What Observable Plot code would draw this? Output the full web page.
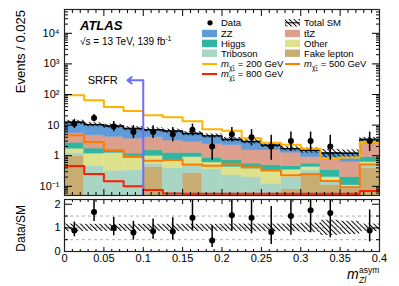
<!DOCTYPE html>
<html><head><meta charset="utf-8">
<script src="https://cdn.jsdelivr.net/npm/d3@7"></script>
<script src="https://cdn.jsdelivr.net/npm/@observablehq/plot@0.6"></script>
<style>
body{margin:0;background:#fff;}
#fig{position:relative;width:399px;height:286px;overflow:hidden;font-family:"Liberation Sans",Arial,Helvetica,sans-serif;}
#fig svg{display:block;}
</style></head><body><div id="fig"></div>
<script>
// ---------- data ----------
const binEdges = [0, 0.025, 0.05, 0.075, 0.1, 0.125, 0.15, 0.175, 0.2, 0.225, 0.25, 0.275, 0.3, 0.325, 0.35, 0.375, 0.4];
// background stack (bottom -> top)
const fakeLepton = [1.0, 0, 0, 0, 0.43, 0, 0.27, 0, 0, 0, 0, 0.08, 0.26, 0.11, 0.084, 0.39];
const triboson   = [0.2, 0.45, 0.32, 0.34, 0.12, 0.39, 0.22, 0.36, 0.23, 0.2, 0.12, 0.12, 0.07, 0.05, 0.016, 0.1];
const other      = [0.48, 0.72, 0.91, 0.61, 0.43, 0.34, 0.41, 0.24, 0.2, 0.18, 0.21, 0.15, 0.1, 0.04, 0.008, 0.13];
const higgs      = [0.96, 0.54, 0.27, 0.22, 0.5, 0.5, 0.33, 0.25, 0.28, 0.17, 0.16, 0.1, 0.12, 0.14, 0.092, 0.28];
const ttZ        = [2.76, 2.94, 2.6, 2.43, 2.5, 1.9, 1.57, 1.51, 1.48, 0.95, 1.01, 0.8, 0.35, 0.48, 0.42, 1.6];
const zz         = [7.0, 5.75, 5.2, 4.1, 3.1, 3.27, 2.5, 2.1, 1.21, 1.4, 0.7, 0.45, 0.6, 0.4, 0.58, 0.9];
const totalRelUnc = [0.16, 0.15, 0.15, 0.15, 0.15, 0.15, 0.15, 0.15, 0.16, 0.16, 0.16, 0.16, 0.2, 0.32, 0.28, 0.16];
// signals
const sig200 = [94, 65, 39, 29, 21, 18, 13.3, 7.3, 6.5, 3.7, 2.64, 2.3, 1.68, 0.82, 0.87, 2.74];
const sig500 = [4.64, 2.8, 1.5, 0.91, 0.68, 0.73, 0.52, 0.47, 0.55, 0.42, 0.33, 0.23, 0.25, 0.15, 0.093, 0.52];
const sig800 = [0.46, 0.25, 0.146, 0.1, 0.075, 0.058, 0.057, 0.057, 0.057, 0.057, 0.057, 0.057, 0.057, 0.057, 0.057, 0.07];
// data
const dataCounts = [11, 17, 9, 6, 6, 5, 7, 2, 5, 4, 2, 3, 3, 2, null, 3];
const dataLow    = [7.73, 12.95, 6.06, 3.62, 3.62, 2.84, 4.42, 0.71, 2.84, 2.09, 0.71, 1.37, 1.37, 0.71, null, 1.37];
const dataHigh   = [15.42, 22.1, 13.11, 9.58, 9.58, 8.38, 10.77, 4.64, 8.38, 7.16, 4.64, 5.92, 5.92, 4.64, null, 5.92];
const ratioValues = [0.89, 1.67, 0.99, 0.80, 0.86, 0.85, 1.43, 0.47, 1.53, 1.43, 0.82, 1.50, 1.74, 1.63, null, 0.89];
// SRFR annotation
const srfrCut = 0.1, srfrArrowTip = 0.08, srfrLevel = 290, srfrTextX = 0.0675;
// ticks
const yMajorTicks = [0.1, 1, 10, 100, 1000, 10000];
const yMajorLabels = ["10⁻¹", "1", "10", "10²", "10³", "10⁴"];
const xMajorTicks = [0, 0.05, 0.1, 0.15, 0.2, 0.25, 0.3, 0.35, 0.4];
const xMajorLabels = ["0", "0.05", "0.1", "0.15", "0.2", "0.25", "0.3", "0.35", "0.4"];
const ratioTicks = [0, 1, 2];
const ratioLabels = ["0", "1", "2"];
const ratioMinor = [0.5, 1.5];
const ratioGrid = [0.5, 1, 1.5];

const colors = {fake:"#c8ad73", tribo:"#a9d5c5", other:"#dfe28c", higgs:"#2fb5a0", ttz:"#dc9f8b", zz:"#5e9bd8",
  s200:"#ffb300", s500:"#ff7a00", s800:"#ff1e00", srfr:"#6e6eff"};

// ---------- derived tables ----------
const nb = binEdges.length - 1;
const layers = [
  {v: fakeLepton, c: colors.fake}, {v: triboson, c: colors.tribo}, {v: other, c: colors.other},
  {v: higgs, c: colors.higgs}, {v: ttZ, c: colors.ttz}, {v: zz, c: colors.zz}
];
const cum = new Array(nb).fill(0);
const stackRows = [];
for (const L of layers) {
  for (let i = 0; i < nb; i++) {
    const lo = cum[i], hi = lo + L.v[i];
    if (L.v[i] > 0) stackRows.push({x1: binEdges[i], x2: binEdges[i+1], y1: Math.max(lo, 1e-4), y2: hi, c: L.c});
    cum[i] = hi;
  }
}
const totalSM = cum.slice();
const uncRows = totalSM.map((t, i) => ({x1: binEdges[i], x2: binEdges[i+1], y1: t*(1-totalRelUnc[i]), y2: t*(1+totalRelUnc[i])}));
const ratioUncRows = totalRelUnc.map((u, i) => ({x1: binEdges[i], x2: binEdges[i+1], y1: 1-u, y2: 1+u}));
const steps = vals => vals.flatMap((v, i) => [{x: binEdges[i], y: v}, {x: binEdges[i+1], y: v}]);
const dataRows = [], ratioRows = [];
for (let i = 0; i < nb; i++) {
  if (dataCounts[i] == null) continue;
  const xc = (binEdges[i] + binEdges[i+1]) / 2;
  dataRows.push({x: xc, y: dataCounts[i], lo: dataLow[i], hi: dataHigh[i]});
  const r = ratioValues[i];
  ratioRows.push({x: xc, y: r, lo: r*dataLow[i]/dataCounts[i], hi: r*dataHigh[i]/dataCounts[i]});
}
const yMinorTicks = [];
for (let k = -2; k <= 4; k++) for (let m = 2; m <= 9; m++) { const v = m*Math.pow(10,k); if (v >= 0.05 && v <= 6e4) yMinorTicks.push(v); }
const xMinorTicks = d3.range(0, 41).map(d => d/100).filter(d => Math.round(d*100) % 5 !== 0);

const FONT = '"Liberation Sans",Arial,Helvetica,sans-serif';
const ns = "http://www.w3.org/2000/svg";
function defs(id) {
  return () => { const d = document.createElementNS(ns, "defs");
    d.innerHTML = `<pattern id="${id}" width="3.4" height="3.4" patternUnits="userSpaceOnUse" patternTransform="rotate(-45)"><line x1="0.5" y1="0" x2="0.5" y2="3.4" stroke="#000" stroke-width="1"/></pattern>`;
    return d; };
}
const noText = () => "";
const tickAxes = (xMaj, xMin, yMaj, yMin, xl, xs, yl, ys) => [
  Plot.axisY({anchor:"left", ticks: yMaj, tickSize: -yl, tickFormat: noText, label: null}),
  Plot.axisY({anchor:"left", ticks: yMin, tickSize: -ys, tickFormat: noText, label: null}),
  Plot.axisY({anchor:"right", ticks: yMaj, tickSize: -yl, tickFormat: noText, label: null}),
  Plot.axisY({anchor:"right", ticks: yMin, tickSize: -ys, tickFormat: noText, label: null}),
  Plot.axisX({anchor:"bottom", ticks: xMaj, tickSize: -xl, tickFormat: noText, label: null}),
  Plot.axisX({anchor:"bottom", ticks: xMin, tickSize: -xs, tickFormat: noText, label: null}),
  Plot.axisX({anchor:"top", ticks: xMaj, tickSize: -xl, tickFormat: noText, label: null}),
  Plot.axisX({anchor:"top", ticks: xMin, tickSize: -xs, tickFormat: noText, label: null})
];

// ---------- main panel ----------
const main = Plot.plot({
  width: 399, height: 197, marginLeft: 64, marginRight: 20, marginTop: 9, marginBottom: 2,
  style: {fontFamily: FONT, fontSize: "11px", background: "transparent", color: "#000", overflow: "visible"},
  x: {domain: [0, 0.4]},
  y: {type: "log", domain: [0.05, 6e4]},
  color: {type: "identity"},
  marks: [
    defs("hatchMain"),
    Plot.rect(stackRows, {x1: "x1", x2: "x2", y1: "y1", y2: "y2", fill: "c", stroke: "c", strokeWidth: 0.4, clip: true}),
    Plot.rect(uncRows, {x1: "x1", x2: "x2", y1: "y1", y2: "y2", fill: "url(#hatchMain)", clip: true}),
    Plot.line(steps(totalSM), {x: "x", y: "y", stroke: "#000", strokeWidth: 1.4, clip: true}),
    Plot.line(steps(sig800), {x: "x", y: "y", stroke: colors.s800, strokeWidth: 2, clip: true}),
    Plot.line(steps(sig500), {x: "x", y: "y", stroke: colors.s500, strokeWidth: 2, clip: true}),
    Plot.line(steps(sig200), {x: "x", y: "y", stroke: colors.s200, strokeWidth: 2, clip: true}),
    Plot.ruleX([srfrCut], {y1: 0.05, y2: srfrLevel, stroke: colors.srfr, strokeWidth: 2}),
    Plot.arrow([0], {x1: srfrCut, y1: srfrLevel, x2: srfrArrowTip, y2: srfrLevel, stroke: colors.srfr, strokeWidth: 2, headLength: 8, headAngle: 75}),
    Plot.text(["SRFR"], {x: srfrTextX, y: srfrLevel, text: d => d, textAnchor: "end", fontSize: 11, fill: "#000"}),
    Plot.ruleX(dataRows, {x: "x", y1: "lo", y2: "hi", stroke: "#000", strokeWidth: 1.5, clip: true}),
    Plot.dot(dataRows, {x: "x", y: "y", r: 3, fill: "#000", stroke: "none"}),
    Plot.axisY({anchor: "left", ticks: yMajorTicks, tickSize: 0, tickPadding: 5, tickFormat: d => yMajorLabels[yMajorTicks.indexOf(d)], fontSize: 11, label: null}),
    ...tickAxes(xMajorTicks, xMinorTicks, yMajorTicks, yMinorTicks, 6, 3, 8, 4),
    Plot.frame({stroke: "#222", strokeWidth: 1.2})
  ]
});

// ---------- ratio panel ----------
const ratio = Plot.plot({
  width: 399, height: 89, marginLeft: 64, marginRight: 20, marginTop: 2, marginBottom: 35,
  style: {fontFamily: FONT, fontSize: "11px", background: "transparent", color: "#000", overflow: "visible"},
  x: {domain: [0, 0.4]},
  y: {domain: [0, 2.2]},
  marks: [
    defs("hatchRatio"),
    Plot.ruleY(ratioGrid, {stroke: "#999", strokeDasharray: "3,3", strokeWidth: 0.8}),
    Plot.rect(ratioUncRows, {x1: "x1", x2: "x2", y1: "y1", y2: "y2", fill: "url(#hatchRatio)"}),
    Plot.ruleX(ratioRows, {x: "x", y1: "lo", y2: "hi", stroke: "#000", strokeWidth: 1.5, clip: true}),
    Plot.dot(ratioRows, {x: "x", y: "y", r: 3, fill: "#000", stroke: "none"}),
    Plot.axisY({anchor: "left", ticks: ratioTicks, tickSize: 0, tickPadding: 4, tickFormat: d => ratioLabels[ratioTicks.indexOf(d)], fontSize: 11, label: null}),
    Plot.axisX({anchor: "bottom", ticks: xMajorTicks, tickSize: 0, tickPadding: 3, tickFormat: d => xMajorLabels[xMajorTicks.indexOf(d)], fontSize: 11, label: null}),
    ...tickAxes(xMajorTicks, xMinorTicks, ratioTicks, ratioMinor, 4, 2, 8, 4),
    Plot.frame({stroke: "#222", strokeWidth: 1.2})
  ]
});

const fig = document.getElementById("fig");
fig.appendChild(main);
fig.appendChild(ratio);

// ---------- annotations & legend ----------
const ms = d3.select(main);
const rs = d3.select(ratio);
ms.append("text").attr("transform", "translate(25,10) rotate(-90)").attr("text-anchor", "end")
  .attr("font-size", 13).attr("font-family", FONT).text("Events / 0.025");
rs.append("text").attr("transform", "translate(25,8) rotate(-90)").attr("text-anchor", "end")
  .attr("font-size", 12).attr("font-family", FONT).text("Data/SM");
const hdr = ms.append("g").attr("text-anchor", "start").attr("font-family", FONT);
hdr.append("text").attr("x", 80).attr("y", 30).attr("font-size", 13).attr("font-weight", "bold")
  .attr("font-style", "italic").text("ATLAS");
const en = hdr.append("text").attr("x", 80).attr("y", 45).attr("font-size", 10);
en.append("tspan").text("√s = 13 TeV, 139 fb");
en.append("tspan").attr("dy", -4).attr("font-size", 7).text("-1");

// axis title m_{Zl}^{asym}
const at = rs.append("g").attr("font-family", FONT).attr("text-anchor", "start");
at.append("text").attr("x", 347).attr("y", 82).attr("font-size", 14).attr("font-style", "italic").text("m");
at.append("text").attr("x", 359).attr("y", 75.5).attr("font-size", 8.5).text("asym");
at.append("text").attr("x", 359).attr("y", 86).attr("font-size", 8.5).attr("font-style", "italic").text("Zl");

// legend
const legendLeft = [
  {label: "Data", kind: "dot"},
  {label: "ZZ", kind: "box", color: colors.zz},
  {label: "Higgs", kind: "box", color: colors.higgs},
  {label: "Triboson", kind: "box", color: colors.tribo},
  {label: " = 200 GeV", kind: "line", color: colors.s200, mass: true},
  {label: " = 800 GeV", kind: "line", color: colors.s800, mass: true}
];
const legendRight = [
  {label: "Total SM", kind: "hatch"},
  {label: "tt̄Z", kind: "box", color: colors.ttz},
  {label: "Other", kind: "box", color: colors.other},
  {label: "Fake lepton", kind: "box", color: colors.fake},
  {label: " = 500 GeV", kind: "line", color: colors.s500, mass: true}
];
const rowY = [22.8, 33.5, 43.4, 53.2, 64, 74];
const lg = ms.append("g").attr("font-family", FONT).attr("font-size", 9.5).attr("text-anchor", "start");
function drawLegend(items, x0) {
  items.forEach((it, i) => {
    const cy = rowY[i];
    if (it.kind === "dot") lg.append("circle").attr("cx", x0 + 8).attr("cy", cy).attr("r", 2.6).attr("fill", "#000");
    if (it.kind === "box") lg.append("rect").attr("x", x0).attr("y", cy - 3.7).attr("width", 15).attr("height", 7.4).attr("fill", it.color);
    if (it.kind === "hatch") {
      lg.append("rect").attr("x", x0).attr("y", cy - 3.7).attr("width", 15).attr("height", 7.4).attr("fill", "url(#hatchMain)");
      lg.append("line").attr("x1", x0).attr("x2", x0 + 15).attr("y1", cy).attr("y2", cy).attr("stroke", "#000").attr("stroke-width", 1);
    }
    if (it.kind === "line") lg.append("line").attr("x1", x0).attr("x2", x0 + 15).attr("y1", cy).attr("y2", cy).attr("stroke", it.color).attr("stroke-width", 2);
    const t = lg.append("text").attr("x", x0 + 19).attr("y", cy + 3.4);
    if (it.mass) {
      t.append("tspan").attr("font-style", "italic").text("m");
      t.append("tspan").attr("font-size", 6.5).attr("dy", 2.5).text("χ̃");
      t.append("tspan").attr("font-size", 5).attr("dy", 1.5).text("1");
      t.append("tspan").attr("dy", -4).text(it.label);
    } else t.text(it.label);
  });
}
drawLegend(legendLeft, 202);
drawLegend(legendRight, 285);
</script></body></html>
